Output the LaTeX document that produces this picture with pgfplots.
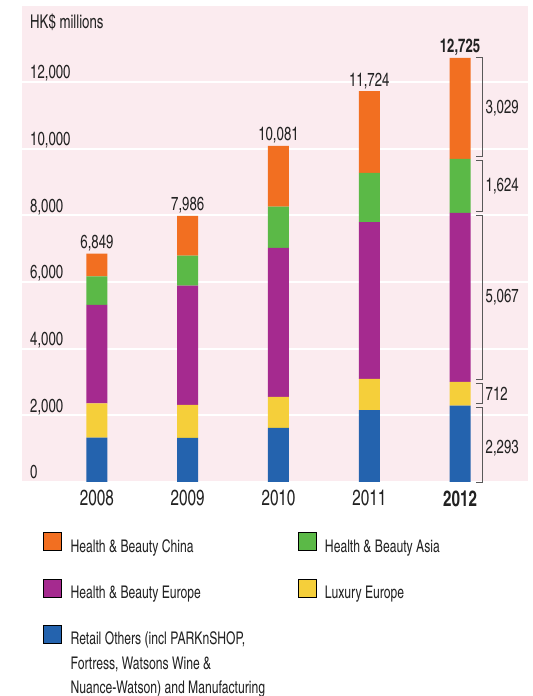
\documentclass[border=0pt]{standalone}
\usepackage{pgfplots}
\pgfplotsset{compat=1.18}
\usepackage{fontspec}
\setmainfont{TeX Gyre Heros Cn}[FakeStretch=0.85]
\definecolor{cOrange}{HTML}{F26F21}
\definecolor{cGreen}{HTML}{5BB947}
\definecolor{cPurple}{HTML}{A52A8F}
\definecolor{cYellow}{HTML}{F5CF3A}
\definecolor{cBlue}{HTML}{2463AE}
\definecolor{cBg}{HTML}{FBEBEF}
\definecolor{cText}{HTML}{222222}
\newcommand\tkfont{\fontsize{19}{22}\selectfont}
\newcommand\xkfont{\fontsize{22}{25}\selectfont}
\newcommand\lgfont{\fontsize{17.5}{24.5}\selectfont}
\begin{document}
\begin{tikzpicture}
\path[use as bounding box] (0,0) rectangle (533bp,696bp);
\begin{axis}[
  at={(22bp,214bp)}, anchor=south west,
  scale only axis, width=506bp, height=476bp,
  ybar stacked, bar width=21bp,
  xmin=-0.826, xmax=4.749, ymin=0, ymax=14280,
  xtick={0,1,2,3,4},
  xticklabels={2008,2009,2010,2011,\textbf{2012}},
  ytick={0,2000,4000,6000,8000,10000,12000},
  yticklabels={0,{2,000},{4,000},{6,000},{8,000},{10,000},{12,000}},
  xticklabel style={font=\xkfont, text=cText, yshift=-5bp},
  yticklabel style={font=\tkfont, text=cText, anchor=base west, inner xsep=0pt, xshift=8bp, yshift=3bp},
  major tick length=0pt,
  axis line style={draw=none},
  axis background/.style={fill=cBg},
  ymajorgrids, major grid style={white, line width=2bp},
  clip=false,
  legend style={at={(0.0415,-0.1055)}, anchor=north west, draw=none, fill=none, inner sep=0pt,
    font=\lgfont, text=cText, legend columns=2, legend cell align=left,
    /tikz/every odd column/.append style={column sep=9bp},
    /tikz/every even column/.append style={column sep=7bp},
    /tikz/row sep=23bp,
    nodes={inner xsep=0pt}},
  legend image code/.code={\fill[#1] (0bp,-4bp) rectangle (18bp,14bp);},
]
\addplot[fill=cBlue, draw=none, forget plot] coordinates {(0,1330) (1,1323) (2,1627) (3,2157) (4,2293)};
\addplot[fill=cYellow, draw=none, forget plot] coordinates {(0,1027) (1,990) (2,924) (3,933) (4,712)};
\addplot[fill=cPurple, draw=none, forget plot] coordinates {(0,2958) (1,3575) (2,4472) (3,4707) (4,5067)};
\addplot[fill=cGreen, draw=none, forget plot] coordinates {(0,852) (1,902) (2,1236) (3,1480) (4,1624)};
\addplot[fill=cOrange, draw=none, forget plot] coordinates {(0,682) (1,1196) (2,1822) (3,2447) (4,3029)};

\addlegendimage{fill=cOrange}\addlegendentry{Health \& Beauty China}
\addlegendimage{fill=cGreen}\addlegendentry{Health \& Beauty Asia}
\addlegendimage{fill=cPurple}\addlegendentry{Health \& Beauty Europe}
\addlegendimage{fill=cYellow}\addlegendentry{Luxury Europe}
\addlegendimage{fill=cBlue}\addlegendentry{\parbox[t]{220bp}{\lgfont\raggedright Retail Others (incl PARKnSHOP,\\Fortress, Watsons Wine \&\\Nuance-Watson) and Manufacturing}}

\node[anchor=base west, font=\tkfont, text=cText, inner xsep=0pt] at ([xshift=8bp, yshift=-23bp]rel axis cs:0,1) {HK\$ millions};

% totals above bars
\node[anchor=base, font=\tkfont, text=cText, yshift=5bp] at (axis cs:0,6849) {6,849};
\node[anchor=base, font=\tkfont, text=cText, yshift=5bp] at (axis cs:1,7986) {7,986};
\node[anchor=base, font=\tkfont, text=cText, yshift=5bp] at (axis cs:2,10081) {10,081};
\node[anchor=base, font=\tkfont, text=cText, yshift=5bp] at (axis cs:3,11724) {11,724};
\node[anchor=base, font=\tkfont, text=cText, yshift=5bp] at (axis cs:4,12725) {\textbf{12,725}};

% brackets for 2012 components
\draw[black!65, line width=0.8bp] (axis cs:4.176,12725) -- (axis cs:4.242,12725) -- (axis cs:4.242,9756) -- (axis cs:4.176,9756);
\draw[black!65, line width=0.8bp] (axis cs:4.176,9636) -- (axis cs:4.242,9636) -- (axis cs:4.242,8132) -- (axis cs:4.176,8132);
\draw[black!65, line width=0.8bp] (axis cs:4.176,8012) -- (axis cs:4.242,8012) -- (axis cs:4.242,3065) -- (axis cs:4.176,3065);
\draw[black!65, line width=0.8bp] (axis cs:4.176,2945) -- (axis cs:4.242,2945) -- (axis cs:4.242,2353) -- (axis cs:4.176,2353);
\draw[black!65, line width=0.8bp] (axis cs:4.176,2233) -- (axis cs:4.242,2233) -- (axis cs:4.242,0) -- (axis cs:4.176,0);
\node[anchor=west, font=\tkfont, text=cText, inner xsep=1bp] at (axis cs:4.27,11210) {3,029};
\node[anchor=west, font=\tkfont, text=cText, inner xsep=1bp] at (axis cs:4.27,8884) {1,624};
\node[anchor=west, font=\tkfont, text=cText, inner xsep=1bp] at (axis cs:4.27,5538) {5,067};
\node[anchor=west, font=\tkfont, text=cText, inner xsep=1bp] at (axis cs:4.27,2649) {712};
\node[anchor=west, font=\tkfont, text=cText, inner xsep=1bp] at (axis cs:4.27,1000) {2,293};
\end{axis}
\end{tikzpicture}
\end{document}
